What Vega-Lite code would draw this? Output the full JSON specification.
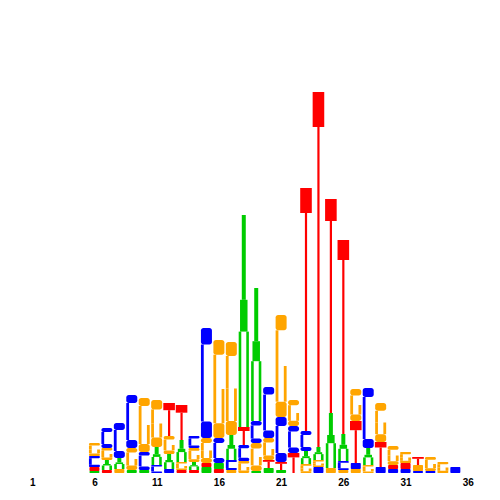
{
"$schema":"https://vega.github.io/schema/vega-lite/v6.json",
"width":448,"height":400,"autosize":"none",
"padding":{"left":26,"top":73,"right":26,"bottom":27},
"config":{"view":{"stroke":null}},
"data":{"values":[
{"pos":6,"nt":"A","part":"dot","bits":0.01},
{"pos":6,"nt":"T","part":"dot","bits":0.02},
{"pos":6,"nt":"C","part":"cap","bits":0.011},{"pos":6,"nt":"C","part":"open","bits":0.033},{"pos":6,"nt":"C","part":"cap","bits":0.011},
{"pos":6,"nt":"G","part":"cap","bits":0.013},{"pos":6,"nt":"G","part":"ring","bits":0.0195},{"pos":6,"nt":"G","part":"open","bits":0.0195},{"pos":6,"nt":"G","part":"cap","bits":0.013},
{"pos":7,"nt":"T","part":"dot","bits":0.015},
{"pos":7,"nt":"A","part":"leg","bits":0.0225},{"pos":7,"nt":"A","part":"mid","bits":0.0075},{"pos":7,"nt":"A","part":"top","bits":0.02},
{"pos":7,"nt":"G","part":"cap","bits":0.012},{"pos":7,"nt":"G","part":"ring","bits":0.018},{"pos":7,"nt":"G","part":"open","bits":0.018},{"pos":7,"nt":"G","part":"cap","bits":0.012},
{"pos":7,"nt":"C","part":"cap","bits":0.02},{"pos":7,"nt":"C","part":"open","bits":0.06},{"pos":7,"nt":"C","part":"cap","bits":0.02},
{"pos":8,"nt":"G","part":"dot","bits":0.02},
{"pos":8,"nt":"A","part":"leg","bits":0.0248},{"pos":8,"nt":"A","part":"mid","bits":0.0082},{"pos":8,"nt":"A","part":"top","bits":0.022},
{"pos":8,"nt":"C","part":"cap","bits":0.035},{"pos":8,"nt":"C","part":"open","bits":0.105},{"pos":8,"nt":"C","part":"cap","bits":0.035},
{"pos":9,"nt":"A","part":"dot","bits":0.015},
{"pos":9,"nt":"G","part":"cap","bits":0.022},{"pos":9,"nt":"G","part":"ring","bits":0.033},{"pos":9,"nt":"G","part":"open","bits":0.033},{"pos":9,"nt":"G","part":"cap","bits":0.022},
{"pos":9,"nt":"C","part":"cap","bits":0.04},{"pos":9,"nt":"C","part":"open","bits":0.185},{"pos":9,"nt":"C","part":"cap","bits":0.04},
{"pos":10,"nt":"A","part":"dot","bits":0.015},
{"pos":10,"nt":"C","part":"cap","bits":0.018},{"pos":10,"nt":"C","part":"open","bits":0.054},{"pos":10,"nt":"C","part":"cap","bits":0.018},
{"pos":10,"nt":"G","part":"cap","bits":0.04},{"pos":10,"nt":"G","part":"ring","bits":0.095},{"pos":10,"nt":"G","part":"open","bits":0.095},{"pos":10,"nt":"G","part":"cap","bits":0.04},
{"pos":11,"nt":"C","part":"cap","bits":0.008},{"pos":11,"nt":"C","part":"open","bits":0.024},{"pos":11,"nt":"C","part":"cap","bits":0.008},
{"pos":11,"nt":"A","part":"leg","bits":0.0405},{"pos":11,"nt":"A","part":"mid","bits":0.0135},{"pos":11,"nt":"A","part":"top","bits":0.036},
{"pos":11,"nt":"G","part":"cap","bits":0.047},{"pos":11,"nt":"G","part":"ring","bits":0.0705},{"pos":11,"nt":"G","part":"open","bits":0.0705},{"pos":11,"nt":"G","part":"cap","bits":0.047},
{"pos":12,"nt":"C","part":"dot","bits":0.02},
{"pos":12,"nt":"A","part":"leg","bits":0.0338},{"pos":12,"nt":"A","part":"mid","bits":0.0112},{"pos":12,"nt":"A","part":"top","bits":0.03},
{"pos":12,"nt":"G","part":"cap","bits":0.018},{"pos":12,"nt":"G","part":"ring","bits":0.027},{"pos":12,"nt":"G","part":"open","bits":0.027},{"pos":12,"nt":"G","part":"cap","bits":0.018},
{"pos":12,"nt":"T","part":"stem","bits":0.129},{"pos":12,"nt":"T","part":"bar","bits":0.036},
{"pos":13,"nt":"T","part":"dot","bits":0.015},
{"pos":13,"nt":"G","part":"cap","bits":0.008},{"pos":13,"nt":"G","part":"ring","bits":0.012},{"pos":13,"nt":"G","part":"open","bits":0.012},{"pos":13,"nt":"G","part":"cap","bits":0.008},
{"pos":13,"nt":"A","part":"leg","bits":0.0495},{"pos":13,"nt":"A","part":"mid","bits":0.0165},{"pos":13,"nt":"A","part":"top","bits":0.044},
{"pos":13,"nt":"T","part":"stem","bits":0.1365},{"pos":13,"nt":"T","part":"bar","bits":0.0385},
{"pos":14,"nt":"T","part":"dot","bits":0.015},
{"pos":14,"nt":"A","part":"leg","bits":0.018},{"pos":14,"nt":"A","part":"mid","bits":0.006},{"pos":14,"nt":"A","part":"top","bits":0.016},
{"pos":14,"nt":"G","part":"cap","bits":0.014},{"pos":14,"nt":"G","part":"ring","bits":0.021},{"pos":14,"nt":"G","part":"open","bits":0.021},{"pos":14,"nt":"G","part":"cap","bits":0.014},
{"pos":14,"nt":"C","part":"cap","bits":0.012},{"pos":14,"nt":"C","part":"open","bits":0.036},{"pos":14,"nt":"C","part":"cap","bits":0.012},
{"pos":15,"nt":"A","part":"dot","bits":0.03},
{"pos":15,"nt":"T","part":"dot","bits":0.02},
{"pos":15,"nt":"G","part":"cap","bits":0.025},{"pos":15,"nt":"G","part":"ring","bits":0.0375},{"pos":15,"nt":"G","part":"open","bits":0.0375},{"pos":15,"nt":"G","part":"cap","bits":0.025},
{"pos":15,"nt":"C","part":"cap","bits":0.0825},{"pos":15,"nt":"C","part":"open","bits":0.385},{"pos":15,"nt":"C","part":"cap","bits":0.0825},
{"pos":16,"nt":"T","part":"dot","bits":0.02},
{"pos":16,"nt":"A","part":"dot","bits":0.03},
{"pos":16,"nt":"C","part":"cap","bits":0.025},{"pos":16,"nt":"C","part":"open","bits":0.075},{"pos":16,"nt":"C","part":"cap","bits":0.025},
{"pos":16,"nt":"G","part":"cap","bits":0.0735},{"pos":16,"nt":"G","part":"ring","bits":0.1715},{"pos":16,"nt":"G","part":"open","bits":0.1715},{"pos":16,"nt":"G","part":"cap","bits":0.0735},
{"pos":17,"nt":"G","part":"dot","bits":0.015},
{"pos":17,"nt":"C","part":"cap","bits":0.01},{"pos":17,"nt":"C","part":"open","bits":0.03},{"pos":17,"nt":"C","part":"cap","bits":0.01},
{"pos":17,"nt":"A","part":"leg","bits":0.0563},{"pos":17,"nt":"A","part":"mid","bits":0.0187},{"pos":17,"nt":"A","part":"top","bits":0.05},
{"pos":17,"nt":"G","part":"cap","bits":0.07},{"pos":17,"nt":"G","part":"ring","bits":0.1625},{"pos":17,"nt":"G","part":"open","bits":0.1625},{"pos":17,"nt":"G","part":"cap","bits":0.07},
{"pos":18,"nt":"G","part":"cap","bits":0.012},{"pos":18,"nt":"G","part":"ring","bits":0.018},{"pos":18,"nt":"G","part":"open","bits":0.018},{"pos":18,"nt":"G","part":"cap","bits":0.012},
{"pos":18,"nt":"C","part":"cap","bits":0.016},{"pos":18,"nt":"C","part":"open","bits":0.048},{"pos":18,"nt":"C","part":"cap","bits":0.016},
{"pos":18,"nt":"T","part":"stem","bits":0.07},{"pos":18,"nt":"T","part":"bar","bits":0.02},
{"pos":18,"nt":"A","part":"leg","bits":0.477},{"pos":18,"nt":"A","part":"mid","bits":0.159},{"pos":18,"nt":"A","part":"top","bits":0.424},
{"pos":19,"nt":"A","part":"dot","bits":0.01},
{"pos":19,"nt":"G","part":"cap","bits":0.028},{"pos":19,"nt":"G","part":"ring","bits":0.042},{"pos":19,"nt":"G","part":"open","bits":0.042},{"pos":19,"nt":"G","part":"cap","bits":0.028},
{"pos":19,"nt":"C","part":"cap","bits":0.022},{"pos":19,"nt":"C","part":"open","bits":0.066},{"pos":19,"nt":"C","part":"cap","bits":0.022},
{"pos":19,"nt":"A","part":"leg","bits":0.299},{"pos":19,"nt":"A","part":"mid","bits":0.1},{"pos":19,"nt":"A","part":"top","bits":0.266},
{"pos":20,"nt":"A","part":"dot","bits":0.025},
{"pos":20,"nt":"T","part":"stem","bits":0.031},{"pos":20,"nt":"T","part":"bar","bits":0.009},
{"pos":20,"nt":"G","part":"cap","bits":0.022},{"pos":20,"nt":"G","part":"ring","bits":0.033},{"pos":20,"nt":"G","part":"open","bits":0.033},{"pos":20,"nt":"G","part":"cap","bits":0.022},
{"pos":20,"nt":"C","part":"cap","bits":0.038},{"pos":20,"nt":"C","part":"open","bits":0.179},{"pos":20,"nt":"C","part":"cap","bits":0.038},
{"pos":21,"nt":"A","part":"dot","bits":0.015},
{"pos":21,"nt":"T","part":"stem","bits":0.031},{"pos":21,"nt":"T","part":"bar","bits":0.009},
{"pos":21,"nt":"C","part":"cap","bits":0.045},{"pos":21,"nt":"C","part":"open","bits":0.135},{"pos":21,"nt":"C","part":"cap","bits":0.045},
{"pos":21,"nt":"G","part":"cap","bits":0.0765},{"pos":21,"nt":"G","part":"ring","bits":0.1785},{"pos":21,"nt":"G","part":"open","bits":0.1785},{"pos":21,"nt":"G","part":"cap","bits":0.0765},
{"pos":22,"nt":"T","part":"stem","bits":0.078},{"pos":22,"nt":"T","part":"bar","bits":0.022},
{"pos":22,"nt":"C","part":"cap","bits":0.027},{"pos":22,"nt":"C","part":"open","bits":0.081},{"pos":22,"nt":"C","part":"cap","bits":0.027},
{"pos":22,"nt":"G","part":"cap","bits":0.026},{"pos":22,"nt":"G","part":"ring","bits":0.039},{"pos":22,"nt":"G","part":"open","bits":0.039},{"pos":22,"nt":"G","part":"cap","bits":0.026},
{"pos":23,"nt":"G","part":"cap","bits":0.009},{"pos":23,"nt":"G","part":"ring","bits":0.0135},{"pos":23,"nt":"G","part":"open","bits":0.0135},{"pos":23,"nt":"G","part":"cap","bits":0.009},
{"pos":23,"nt":"A","part":"leg","bits":0.0293},{"pos":23,"nt":"A","part":"mid","bits":0.0097},{"pos":23,"nt":"A","part":"top","bits":0.026},
{"pos":23,"nt":"C","part":"cap","bits":0.02},{"pos":23,"nt":"C","part":"open","bits":0.06},{"pos":23,"nt":"C","part":"cap","bits":0.02},
{"pos":23,"nt":"T","part":"stem","bits":1.09},{"pos":23,"nt":"T","part":"bar","bits":0.125},
{"pos":24,"nt":"C","part":"dot","bits":0.03},
{"pos":24,"nt":"G","part":"cap","bits":0.007},{"pos":24,"nt":"G","part":"ring","bits":0.0105},{"pos":24,"nt":"G","part":"open","bits":0.0105},{"pos":24,"nt":"G","part":"cap","bits":0.007},
{"pos":24,"nt":"A","part":"leg","bits":0.0293},{"pos":24,"nt":"A","part":"mid","bits":0.0097},{"pos":24,"nt":"A","part":"top","bits":0.026},
{"pos":24,"nt":"T","part":"stem","bits":1.6},{"pos":24,"nt":"T","part":"bar","bits":0.175},
{"pos":25,"nt":"G","part":"dot","bits":0.025},
{"pos":25,"nt":"A","part":"leg","bits":0.124},{"pos":25,"nt":"A","part":"mid","bits":0.041},{"pos":25,"nt":"A","part":"top","bits":0.11},
{"pos":25,"nt":"T","part":"stem","bits":0.96},{"pos":25,"nt":"T","part":"bar","bits":0.11},
{"pos":26,"nt":"G","part":"dot","bits":0.015},
{"pos":26,"nt":"C","part":"cap","bits":0.009},{"pos":26,"nt":"C","part":"open","bits":0.027},{"pos":26,"nt":"C","part":"cap","bits":0.009},
{"pos":26,"nt":"A","part":"leg","bits":0.061},{"pos":26,"nt":"A","part":"mid","bits":0.02},{"pos":26,"nt":"A","part":"top","bits":0.054},
{"pos":26,"nt":"T","part":"stem","bits":0.87},{"pos":26,"nt":"T","part":"bar","bits":0.1},
{"pos":27,"nt":"G","part":"dot","bits":0.02},
{"pos":27,"nt":"C","part":"dot","bits":0.03},
{"pos":27,"nt":"T","part":"stem","bits":0.164},{"pos":27,"nt":"T","part":"bar","bits":0.046},
{"pos":27,"nt":"G","part":"cap","bits":0.032},{"pos":27,"nt":"G","part":"ring","bits":0.048},{"pos":27,"nt":"G","part":"open","bits":0.048},{"pos":27,"nt":"G","part":"cap","bits":0.032},
{"pos":28,"nt":"G","part":"cap","bits":0.008},{"pos":28,"nt":"G","part":"ring","bits":0.012},{"pos":28,"nt":"G","part":"open","bits":0.012},{"pos":28,"nt":"G","part":"cap","bits":0.008},
{"pos":28,"nt":"A","part":"leg","bits":0.038},{"pos":28,"nt":"A","part":"mid","bits":0.013},{"pos":28,"nt":"A","part":"top","bits":0.034},
{"pos":28,"nt":"C","part":"cap","bits":0.045},{"pos":28,"nt":"C","part":"open","bits":0.21},{"pos":28,"nt":"C","part":"cap","bits":0.045},
{"pos":29,"nt":"C","part":"dot","bits":0.03},
{"pos":29,"nt":"T","part":"stem","bits":0.0975},{"pos":29,"nt":"T","part":"bar","bits":0.0275},
{"pos":29,"nt":"G","part":"cap","bits":0.039},{"pos":29,"nt":"G","part":"ring","bits":0.0585},{"pos":29,"nt":"G","part":"open","bits":0.0585},{"pos":29,"nt":"G","part":"cap","bits":0.039},
{"pos":30,"nt":"C","part":"dot","bits":0.02},
{"pos":30,"nt":"T","part":"dot","bits":0.02},
{"pos":30,"nt":"G","part":"cap","bits":0.019},{"pos":30,"nt":"G","part":"ring","bits":0.0285},{"pos":30,"nt":"G","part":"open","bits":0.0285},{"pos":30,"nt":"G","part":"cap","bits":0.019},
{"pos":31,"nt":"C","part":"dot","bits":0.02},
{"pos":31,"nt":"T","part":"dot","bits":0.03},
{"pos":31,"nt":"G","part":"cap","bits":0.011},{"pos":31,"nt":"G","part":"ring","bits":0.0165},{"pos":31,"nt":"G","part":"open","bits":0.0165},{"pos":31,"nt":"G","part":"cap","bits":0.011},
{"pos":32,"nt":"C","part":"dot","bits":0.01},
{"pos":32,"nt":"G","part":"dot","bits":0.03},
{"pos":32,"nt":"T","part":"stem","bits":0.031},{"pos":32,"nt":"T","part":"bar","bits":0.009},
{"pos":33,"nt":"C","part":"dot","bits":0.01},
{"pos":33,"nt":"G","part":"cap","bits":0.014},{"pos":33,"nt":"G","part":"ring","bits":0.021},{"pos":33,"nt":"G","part":"open","bits":0.021},{"pos":33,"nt":"G","part":"cap","bits":0.014},
{"pos":34,"nt":"G","part":"cap","bits":0.011},{"pos":34,"nt":"G","part":"ring","bits":0.0165},{"pos":34,"nt":"G","part":"open","bits":0.0165},{"pos":34,"nt":"G","part":"cap","bits":0.011},
{"pos":35,"nt":"C","part":"dot","bits":0.03}
]},
"transform":[
{"window":[{"op":"row_number","as":"rn"}]},
{"stack":"bits","groupby":["pos"],"sort":[{"field":"rn","order":"ascending"}],"as":["y0","y1"]}
],
"encoding":{
"x":{"field":"pos","type":"quantitative","scale":{"domain":[0.5,36.5],"nice":false,"zero":false,"padding":0},
"axis":{"values":[1,6,11,16,21,26,31,36],"format":"d","title":null,"domain":false,"ticks":false,"grid":false,"labelFont":"Liberation Sans","labelFontSize":10,"labelFontWeight":"bold","labelColor":"#000000","labelPadding":4,"labelFlush":false}},
"y":{"field":"y0","type":"quantitative","scale":{"domain":[0,2],"nice":false,"zero":true,"padding":0},"axis":null},
"y2":{"field":"y1"},
"fill":{"field":"nt","type":"nominal","scale":{"domain":["A","C","G","T"],"range":["#00CC00","#0000FF","#FFA500","#FF0000"]},"legend":null}
},
"layer":[
{"transform":[{"filter":{"field":"part","equal":"cap"}}],"mark":{"type":"bar","size":11,"cornerRadius":2.5}},
{"transform":[{"filter":{"field":"part","equal":"bar"}}],"mark":{"type":"bar","size":11.6}},
{"transform":[{"filter":{"field":"part","equal":"dot"}}],"mark":{"type":"bar","size":10,"cornerRadius":1}},
{"transform":[{"filter":{"field":"part","equal":"stem"}}],"mark":{"type":"bar","size":2.2}},
{"transform":[{"filter":{"field":"part","equal":"mid"}}],"mark":{"type":"bar","size":7.5}},
{"transform":[{"filter":{"field":"part","equal":"top"}}],"mark":{"type":"bar","size":4}},
{"transform":[{"filter":{"field":"part","oneOf":["open","ring"]}}],"mark":{"type":"bar","size":2.8,"xOffset":-4.1}},
{"transform":[{"filter":{"field":"part","equal":"ring"}}],"mark":{"type":"bar","size":2.8,"xOffset":4.1}},
{"transform":[{"filter":{"field":"part","equal":"leg"}}],"mark":{"type":"bar","size":2.6,"xOffset":-3.8}},
{"transform":[{"filter":{"field":"part","equal":"leg"}}],"mark":{"type":"bar","size":2.6,"xOffset":3.8}}
]
}
